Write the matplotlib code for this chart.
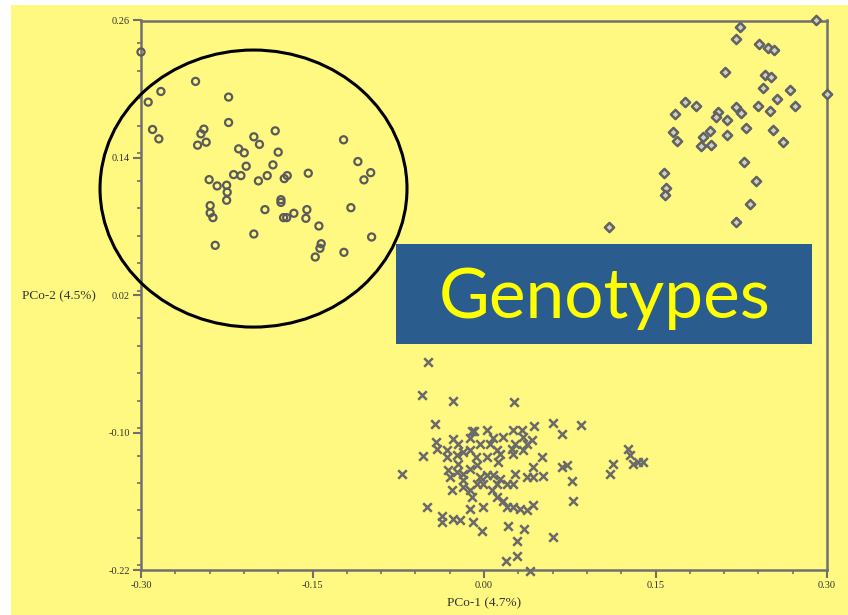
import numpy as np
import matplotlib.pyplot as plt
from matplotlib.patches import Ellipse, Rectangle
from matplotlib.ticker import MultipleLocator

# group 1 - top-left cluster (open circles)
g1_x = [-0.300, -0.2523, -0.2826, -0.2937, -0.2234, -0.2234, -0.2899, -0.2844, -0.2450, -0.2476,
        -0.2430, -0.2505, -0.2013, -0.1964, -0.2146, -0.2097, -0.2080, -0.2190, -0.2126, -0.2404,
        -0.2334, -0.2251, -0.2246, -0.2251, -0.1973, -0.2395, -0.2395, -0.2371, -0.2013, -0.2351,
        -0.1826, -0.1800, -0.1846, -0.1896, -0.1747, -0.1721, -0.1537, -0.1228, -0.1103, -0.0991,
        -0.1050, -0.1776, -0.1776, -0.1916, -0.1753, -0.1726, -0.1663, -0.1549, -0.1558, -0.1444,
        -0.1164, -0.1424, -0.1435, -0.1476, -0.1225, -0.0983]
g1_y = [0.2325, 0.2068, 0.1980, 0.1887, 0.1931, 0.1709, 0.1648, 0.1566, 0.1651, 0.1610,
        0.1537, 0.1511, 0.1584, 0.1518, 0.1479, 0.1444, 0.1327, 0.1254, 0.1245, 0.1210,
        0.1155, 0.1161, 0.1100, 0.1030, 0.1199, 0.0983, 0.0919, 0.0878, 0.0735, 0.0636,
        0.1636, 0.1450, 0.1339, 0.1245, 0.1219, 0.1245, 0.1266, 0.1558, 0.1368, 0.1271,
        0.1208, 0.1035, 0.1011, 0.0948, 0.0878, 0.0878, 0.0916, 0.0948, 0.0872, 0.0805,
        0.0965, 0.0650, 0.0610, 0.0534, 0.0575, 0.0709]

# group 2 - top-right cluster
g2_x = [0.2902, 0.2237, 0.2208, 0.2409, 0.2488, 0.2540, 0.2106, 0.2459, 0.2509, 0.2439,
        0.2680, 0.3004, 0.2566, 0.2398, 0.2721, 0.1761, 0.1852, 0.1674, 0.2202, 0.2246,
        0.2500, 0.2048, 0.2027, 0.2126, 0.2290, 0.2531, 0.1654, 0.1691, 0.1975, 0.1914,
        0.2126, 0.2619, 0.1899, 0.1989, 0.2272, 0.1575, 0.2380, 0.1590, 0.1584, 0.2328,
        0.2202, 0.1096]
g2_y = [0.2600, 0.2544, 0.2441, 0.2395, 0.2360, 0.2342, 0.2150, 0.2126, 0.2106, 0.2010,
        0.1992, 0.1954, 0.1914, 0.1855, 0.1849, 0.1890, 0.1849, 0.1782, 0.1844, 0.1791,
        0.1809, 0.1800, 0.1753, 0.1730, 0.1663, 0.1645, 0.1628, 0.1551, 0.1639, 0.1584,
        0.1599, 0.1540, 0.1502, 0.1511, 0.1368, 0.1266, 0.1196, 0.1135, 0.1076, 0.0998,
        0.0837, 0.0794]

# group 3 - bottom cluster (crosses)
g3_x = [-0.0487, -0.0540, -0.0268, 0.0265, -0.0429, 0.0607, 0.0683, 0.0846, 0.0440, -0.0108,
        -0.0085, -0.0123, -0.0274, -0.0420, -0.0414, -0.0531, -0.0715, 0.0257, 0.0169, 0.0076,
        0.0053, 0.0344, 0.0373, 0.0271, 0.0417, -0.0327, -0.0239, -0.0187, -0.0070, -0.0064,
        -0.0225, -0.0312, -0.0298, -0.0181, -0.0283, -0.0123, 0.0023, 0.0140, 0.0125, 0.0257,
        0.0242, 0.0505, 0.0432, 0.0373, 0.0519, 0.0680, 0.0723, 0.0767, 0.0782, -0.0035,
        0.0023, -0.0181, -0.0123, -0.0064, -0.0006, 0.0082, 0.0140, 0.0198, 0.0257, 0.0271,
        0.0067, 0.0111, 0.0169, -0.0108, -0.0123, -0.0006, 0.0198, 0.0257, 0.0315, 0.0373,
        0.0432, -0.0502, -0.0370, -0.0370, -0.0268, -0.0210, -0.0093, -0.0020, 0.0213, 0.0350,
        0.0286, 0.0607, 0.0193, 0.0286, 0.0403, 0.1263, 0.1278, 0.1351, 0.1132, 0.1103,
        0.1394, 0.1307, 0.0111, 0.0330, 0.0111, 0.0432, -0.0035, -0.0181, -0.0239, -0.0327,
        -0.0123, -0.0225, 0.0023, 0.0344]
g3_y = [-0.0382, -0.0668, -0.0726, -0.0732, -0.0922, -0.0916, -0.1015, -0.0936, -0.0945, -0.0986,
        -0.0989, -0.1047, -0.1059, -0.1082, -0.1141, -0.1208, -0.1359, -0.0980, -0.1038, -0.1044,
        -0.1097, -0.1038, -0.1097, -0.1097, -0.1068, -0.1213, -0.1199, -0.1170, -0.1213, -0.1286,
        -0.1272, -0.1330, -0.1388, -0.1359, -0.1505, -0.1316, -0.1213, -0.1184, -0.1257, -0.1184,
        -0.1141, -0.1213, -0.1301, -0.1388, -0.1383, -0.1301, -0.1286, -0.1423, -0.1593, -0.1388,
        -0.1374, -0.1476, -0.1505, -0.1447, -0.1447, -0.1374, -0.1403, -0.1447, -0.1447, -0.1359,
        -0.1505, -0.1564, -0.1593, -0.1564, -0.1666, -0.1651, -0.1651, -0.1651, -0.1666, -0.1680,
        -0.1636, -0.1651, -0.1724, -0.1782, -0.1753, -0.1762, -0.1782, -0.1855, -0.1820, -0.1841,
        -0.1943, -0.1914, -0.2118, -0.2074, -0.2205, -0.1141, -0.1199, -0.1257, -0.1272, -0.1359,
        -0.1257, -0.1272, -0.1155, -0.0980, -0.1447, -0.1388, -0.1097, -0.1418, -0.1345, -0.1155,
        -0.1155, -0.1097, -0.0980, -0.1155]

x_ticks = [-0.30, -0.15, 0.00, 0.15, 0.30]
y_ticks = [-0.22, -0.10, 0.02, 0.14, 0.26]
x_label = "PCo-1 (4.7%)"
y_label = "PCo-2 (4.5%)"
box_text = "Genotypes"

W, H = 848, 615
fig = plt.figure(figsize=(W / 100, H / 100), dpi=100)
fig.patches.append(Rectangle((11 / W, 0), 1 - 11 / W, 1 - 5 / H, transform=fig.transFigure,
                             facecolor='#FFF982', edgecolor='none', zorder=-10))

ax = fig.add_axes([141 / W, 45 / H, 686 / W, 549.5 / H])
ax.set_facecolor('none')
ax.set_xlim(-0.30, 0.30)
ax.set_ylim(-0.22, 0.26)

gray = '#5a5a5a'
ax.scatter(g1_x, g1_y, s=26, marker='o', facecolors='none', edgecolors=gray, linewidths=1.6,
           clip_on=False, zorder=3)
ax.scatter(g2_x, g2_y, s=22, marker='D', facecolors='#d0d0c0', edgecolors='#626262', linewidths=1.8,
           clip_on=False, zorder=3)
ax.scatter(g3_x, g3_y, s=38, marker='x', color='#6a6a6a', linewidths=1.8, clip_on=False, zorder=3)

ell = Ellipse((-0.2016, 0.1132), 0.2685, 0.242, fill=False, edgecolor='black', linewidth=2.2,
              clip_on=False, zorder=4)
ax.add_patch(ell)

for s in ax.spines.values():
    s.set_color('#707070')
    s.set_linewidth(1.8)
ax.set_xticks(x_ticks)
ax.set_yticks(y_ticks)
ax.set_xticklabels(["%.2f" % v for v in x_ticks])
ax.set_yticklabels(["%.2f" % v for v in y_ticks])
ax.xaxis.set_minor_locator(MultipleLocator(0.03))
ax.yaxis.set_minor_locator(MultipleLocator(0.024))
ax.tick_params(which='major', direction='out', length=6, width=1.5, color='#707070',
               labelsize=7.5, labelcolor='#333333', pad=2)
ax.tick_params(which='minor', direction='out', length=3, width=1.2, color='#707070')
for lab in ax.get_xticklabels() + ax.get_yticklabels():
    lab.set_family('Liberation Serif')

fig.text(484 / W, 1 - 603 / H, x_label, ha='center', va='center', fontsize=9.5,
         family='Liberation Serif', color='#333333')
fig.text(22 / W, 1 - 296 / H, y_label, ha='left', va='center', fontsize=9.5,
         family='Liberation Serif', color='#333333')

fig.patches.append(Rectangle((396 / W, 1 - 343.5 / H), 416 / W, 99.5 / H, transform=fig.transFigure,
                             facecolor='#2A5C8E', edgecolor='none', zorder=10))
fig.text(605 / W, 1 - 298 / H, box_text, ha='center', va='center', fontsize=50,
         family='Lato', color='#FFFF00', zorder=11)

fig.savefig('out.png', dpi=100)
